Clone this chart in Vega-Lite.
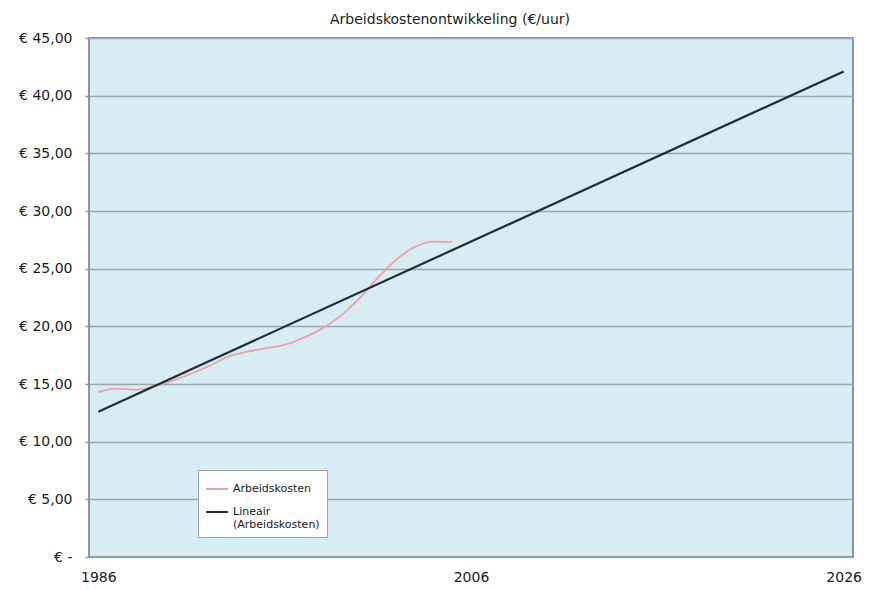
{
  "$schema": "https://vega.github.io/schema/vega-lite/v6.json",
  "width": 764,
  "height": 519,
  "autosize": {"type": "none"},
  "padding": {"left": 89, "top": 38, "right": 17, "bottom": 33},
  "background": "#ffffff",
  "title": {
    "text": "Arbeidskostenontwikkeling (€/uur)",
    "font": "DejaVu Sans",
    "fontSize": 14,
    "fontWeight": "normal",
    "color": "#1a1a1a",
    "anchor": "middle",
    "dx": -21,
    "offset": 4
  },
  "datasets": {
    "kosten": [
      {"jaar": 1986, "waarde": 14.3, "reeks": "Arbeidskosten"},
      {"jaar": 1987, "waarde": 14.6, "reeks": "Arbeidskosten"},
      {"jaar": 1988, "waarde": 14.5, "reeks": "Arbeidskosten"},
      {"jaar": 1989, "waarde": 14.8, "reeks": "Arbeidskosten"},
      {"jaar": 1990, "waarde": 15.3, "reeks": "Arbeidskosten"},
      {"jaar": 1991, "waarde": 15.9, "reeks": "Arbeidskosten"},
      {"jaar": 1992, "waarde": 16.6, "reeks": "Arbeidskosten"},
      {"jaar": 1993, "waarde": 17.4, "reeks": "Arbeidskosten"},
      {"jaar": 1994, "waarde": 17.8, "reeks": "Arbeidskosten"},
      {"jaar": 1995, "waarde": 18.1, "reeks": "Arbeidskosten"},
      {"jaar": 1996, "waarde": 18.4, "reeks": "Arbeidskosten"},
      {"jaar": 1997, "waarde": 19.0, "reeks": "Arbeidskosten"},
      {"jaar": 1998, "waarde": 19.8, "reeks": "Arbeidskosten"},
      {"jaar": 1999, "waarde": 20.9, "reeks": "Arbeidskosten"},
      {"jaar": 2000, "waarde": 22.4, "reeks": "Arbeidskosten"},
      {"jaar": 2001, "waarde": 24.2, "reeks": "Arbeidskosten"},
      {"jaar": 2002, "waarde": 25.8, "reeks": "Arbeidskosten"},
      {"jaar": 2003, "waarde": 26.9, "reeks": "Arbeidskosten"},
      {"jaar": 2004, "waarde": 27.35, "reeks": "Arbeidskosten"},
      {"jaar": 2005, "waarde": 27.3, "reeks": "Arbeidskosten"}
    ],
    "trend": [
      {"jaar": 1986, "waarde": 12.6, "reeks": "Lineair (Arbeidskosten)"},
      {"jaar": 2026, "waarde": 42.1, "reeks": "Lineair (Arbeidskosten)"}
    ]
  },
  "encoding": {
    "x": {
      "field": "jaar",
      "type": "quantitative",
      "scale": {"domain": [1985.5, 2026.5], "nice": false, "zero": false},
      "axis": {
        "title": null,
        "values": [1986, 2006, 2026],
        "format": "d",
        "grid": false,
        "domain": false,
        "ticks": false,
        "labelPadding": 13,
        "labelFont": "DejaVu Sans",
        "labelFontSize": 14,
        "labelColor": "#1a1a1a",
        "labelFlush": false,
        "encode": {
          "labels": {
            "update": {"dy": {"signal": "datum.value == 2006 ? -5 : 0"}}
          }
        }
      }
    },
    "y": {
      "field": "waarde",
      "type": "quantitative",
      "scale": {"domain": [0, 45], "nice": false},
      "axis": {
        "title": null,
        "values": [0, 5, 10, 15, 20, 25, 30, 35, 40, 45],
        "labelExpr": "datum.value == 0 ? '€ -' : '€ ' + replace(format(datum.value, '.2f'), '.', ',')",
        "grid": true,
        "gridColor": "#9aa7ac",
        "gridWidth": 1.5,
        "domain": false,
        "ticks": true,
        "tickSize": 4,
        "tickColor": "#8a969a",
        "tickWidth": 1.5,
        "labelPadding": 13,
        "labelFont": "DejaVu Sans",
        "labelFontSize": 14,
        "labelColor": "#1a1a1a",
        "encode": {
          "labels": {
            "update": {"dx": {"signal": "datum.value == 0 ? -18 : 0"}}
          }
        }
      }
    },
    "color": {
      "field": "reeks",
      "type": "nominal",
      "scale": {
        "domain": ["Arbeidskosten", "Lineair (Arbeidskosten)"],
        "range": ["#e9a3a3", "#1e2d36"]
      },
      "legend": {
        "title": null,
        "orient": "none",
        "legendX": 109,
        "legendY": 432,
        "fillColor": "#ffffff",
        "strokeColor": "#9aa3a6",
        "padding": 7,
        "symbolType": "stroke",
        "symbolSize": 480,
        "symbolStrokeWidth": 2,
        "rowPadding": 6,
        "labelOffset": 4,
        "labelFont": "DejaVu Sans",
        "labelFontSize": 11,
        "labelColor": "#1a1a1a",
        "labelLimit": 200,
        "labelExpr": "datum.label == 'Lineair (Arbeidskosten)' ? ['Lineair', '(Arbeidskosten)'] : datum.label"
      }
    }
  },
  "layer": [
    {
      "data": {"name": "kosten"},
      "mark": {"type": "line", "interpolate": "monotone", "strokeWidth": 1.8}
    },
    {
      "data": {"name": "trend"},
      "mark": {"type": "line", "strokeWidth": 2.2}
    }
  ],
  "config": {
    "view": {"fill": "#d8ecf3", "stroke": "#8a969a", "strokeWidth": 2}
  }
}
